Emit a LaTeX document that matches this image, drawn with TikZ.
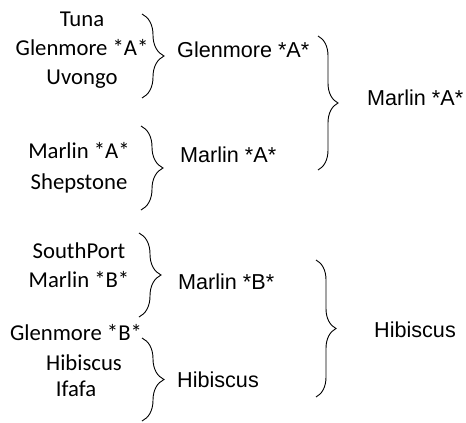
\documentclass[tikz,border=0pt]{standalone}
\usepackage{fontspec}
\setmainfont{Carlito}
\newfontfamily\arialfont{Liberation Sans}
\usetikzlibrary{decorations.pathreplacing}
\tikzset{
	leaf/.style={anchor=base, inner sep=0pt, font=\fontsize{22.7}{27}\selectfont},
	group/.style={anchor=base west, inner sep=0pt, font=\arialfont\fontsize{21.6}{26}\selectfont},
	brc/.style={decorate, decoration={brace, amplitude=#1}, line width=0.9pt},
	brc/.default=22pt
}

\begin{document}
\begin{tikzpicture}[x=1pt, y=-1pt]
			%%%%% START %%%%%
			\useasboundingbox (0, 0) rectangle (466, 423);
			
			% first column
			\node[leaf] (tuna) at (82, 27) {Tuna};
			\node[leaf] (glenA) at (82, 55) {Glenmore *A*};
			\node[leaf] (uvongo) at (82, 84) {Uvongo};
			\node[leaf] (marlA) at (79, 158) {Marlin *A*};
			\node[leaf] (shep) at (79, 189) {Shepstone};
			\node[leaf] (south) at (79, 258) {SouthPort};
			\node[leaf] (marlB) at (79, 287) {Marlin *B*};
			\node[leaf] (glenB) at (76, 340) {Glenmore *B*};
			\node[leaf] (hibis) at (84, 370) {Hibiscus};
			\node[leaf] (ifafa) at (76, 396) {Ifafa};
			
			% small braces
			\coordinate (b1t) at (142, 14);  \coordinate (b1b) at (142, 98);
			\coordinate (b2t) at (141, 126); \coordinate (b2b) at (141, 210);
			\coordinate (b3t) at (139, 233); \coordinate (b3b) at (139, 317);
			\coordinate (b4t) at (142, 338); \coordinate (b4b) at (142, 421);
			\draw[brc] (b1t) -- (b1b);
			\draw[brc] (b2t) -- (b2b);
			\draw[brc] (b3t) -- (b3b);
			\draw[brc] (b4t) -- (b4b);
			
			% second column
			\node[group] (gGlenA) at (177, 57) {Glenmore *A*};
			\node[group] (gMarlA) at (180, 162) {Marlin *A*};
			\node[group] (gMarlB) at (178, 289) {Marlin *B*};
			\node[group] (gHibis) at (177, 387) {Hibiscus};
			
			% big braces
			\coordinate (B1t) at (318, 36);  \coordinate (B1b) at (318, 170);
			\coordinate (B2t) at (316, 260); \coordinate (B2b) at (316, 397);
			\draw[brc=20pt] (B1t) -- (B1b);
			\draw[brc=20pt] (B2t) -- (B2b);
			
			% last column
			\node[group] (rMarlA) at (367, 105) {Marlin *A*};
			\node[group] (rHibis) at (374, 337) {Hibiscus};
			%%%%% END %%%%%
\end{tikzpicture}
\end{document}
